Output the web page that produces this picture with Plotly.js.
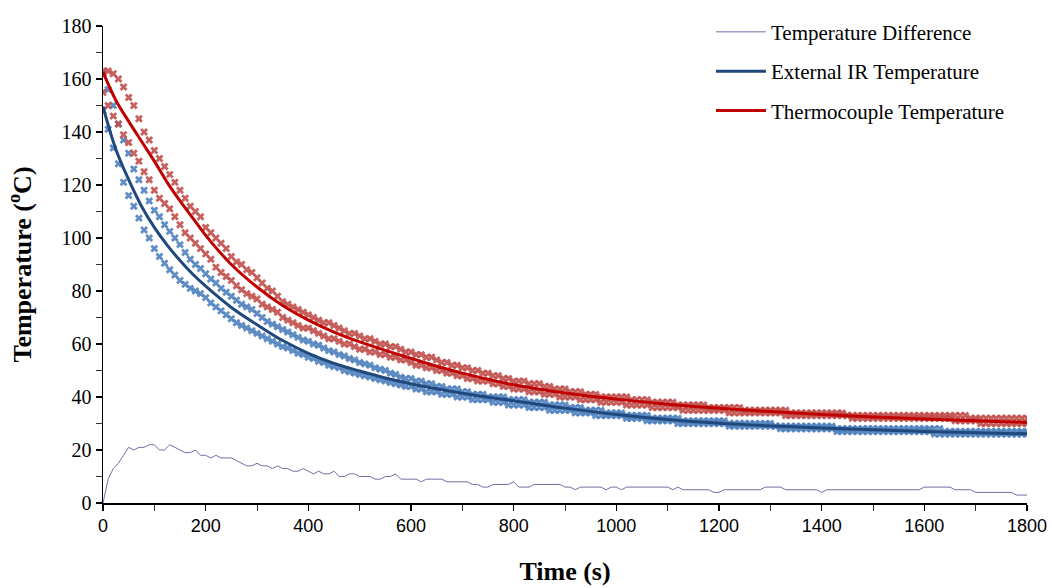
<!DOCTYPE html>
<html>
<head>
<meta charset="utf-8">
<script src="https://cdn.plot.ly/plotly-3.0.1.min.js"></script>
<style>html,body{margin:0;padding:0;background:#fff;}#chart{width:1052px;height:588px;}</style>
</head>
<body>
<div id="chart"></div>
<script>
// sampling step of the logged measurements (s)
const sampleStep = 10;
const sampleCount = 181;

// Thermocouple readings, upper run (°C)
const tcUpper = [163,163,162,160,157,153,150,145,140,137,
 133,130,127,124,121,118,115,112,110,108,
 104,102,100,98,96,93,91,90,88,87,
 85,83,81,80,78,76,75,74,73,72,
 71,70,69,68,68,67,66,65,64,64,
 63,62,62,61,60,60,59,59,58,57,
 57,56,56,55,55,54,53,53,52,52,
 51,51,50,50,49,49,48,48,47,47,
 46,46,46,45,45,45,44,44,43,43,
 43,42,42,42,41,41,41,40,40,40,
 40,40,40,39,39,39,39,38,38,38,
 38,38,37,37,37,37,37,37,36,36,
 36,36,36,36,36,35,35,35,35,35,
 35,35,35,35,34,34,34,34,34,34,
 34,34,34,34,34,33,33,33,33,33,
 33,33,33,33,33,33,33,33,33,33,
 33,33,33,33,33,33,33,33,33,32,
 32,32,32,32,32,32,32,32,32,32,
 32];
// Thermocouple readings, lower run (°C)
const tcLower = [155,150,146,143,139,136,132,129,125,122,
 118,115,113,111,108,105,102,100,98,96,
 94,92,89,87,85.5,84,82,80.5,79,78,
 77,75,74,73,72,70,69,68,67,66,
 66,65,64,63,62,62,61,60,60,59,
 58,58,57,57,56,56,55,55,54,54,
 53,52,52,51,51,50,50,49,49,48,
 48,47,47,46,46,46,45,45,44,44,
 43,43,43,42,42,42,41,41,41,40,
 40,40,40,39,39,39,39,38,38,38,
 38,38,37,37,37,37,37,36,36,36,
 36,36,36,35,35,35,35,35,35,35,
 35,35,34,34,34,34,34,34,34,34,
 34,34,34,33,33,33,33,33,33,33,
 33,33,33,33,33,33,32,32,32,32,
 32,32,32,32,32,32,32,32,32,32,
 32,32,32,32,32,32,31,31,31,31,
 31,30,30,30,30,30,30,30,30,30,
 30];
// External IR readings, upper run (°C)
const irUpper = [162,156,150,143,137,132,126,122,118,114,
 110.5,108,105,102.5,100,97.5,94.5,92,90,88.5,
 86.5,84.5,83,81,79.5,78,76.5,75,74,73,
 71.5,70,68.5,67.5,66.5,65.5,64.5,63.5,62.5,61.5,
 61,60,59.5,58.5,57.5,57,56,55.5,54.5,54,
 53,52.5,52,51,50.5,50,49,48.5,47.5,47,
 47,46,46,45,45,44,44,43,43,43,
 42,42,41,41,41,40,40,40,40,39,
 39,39,39,38,38,38,38,37,37,37,
 37,36,36,36,35,35,35,35,34,34,
 34,34,33,33,33,33,33,32,32,32,
 32,32,32,31,31,31,31,31,31,31,
 31,31,30,30,30,30,30,30,30,30,
 30,29,29,29,29,29,29,29,29,29,
 29,29,29,28,28,28,28,28,28,28,
 28,28,28,28,28,28,28,28,28,28,
 28,28,28,28,27,27,27,27,27,27,
 27,27,27,27,27,27,27,27,27,27,
 27];
// External IR readings, lower run (°C)
const irLower = [148,141,134,128,121,116,112,107.5,103,100,
 96,93,90.5,88,86,84,82.5,81,80,79,
 77.5,75.5,74,72.5,71,69.5,68,67,66,65,
 64,63,62,61,60,59,58.5,57.5,56.5,56,
 55,54.5,53.5,53,52,51.5,51,50,49.5,49,
 48.5,48,47.5,47,46.5,46,45.5,45,44.5,44,
 44,43,43,42,42,42,41,41,41,40,
 40,40,39,39,39,39,38,38,38,37,
 37,37,37,36,36,36,36,35,35,35,
 35,35,34,34,34,34,33,33,33,33,
 33,33,32,32,32,32,31,31,31,31,
 31,31,30,30,30,30,30,30,30,30,
 30,30,29,29,29,29,29,29,29,29,
 29,29,28,28,28,28,28,28,28,28,
 28,28,28,27,27,27,27,27,27,27,
 27,27,27,27,27,27,27,27,27,27,
 27,27,26,26,26,26,26,26,26,26,
 26,26,26,26,26,26,26,26,26,26,
 26];
// Temperature difference (°C)
const tempDiff = [0,9,13,15,18,21,20,21,21,22,
 22,20,20,22,21,20,19,19,20,18,
 18,17,18,17,17,17,16,15,14,14,
 15,14,14,13,14,13,13,12,12,13,
 12,11,12,11,11,12,10,10,11,11,
 10,10,10,9,9,10,10,11,9,9,
 9,9,8,9,9,9,9,8,8,8,
 8,8,7,7,6,6,7,7,7,7,
 8,6,6,6,7,7,7,7,7,7,
 6,6,5,6,6,6,6,6,5,6,
 6,5,6,6,6,6,6,6,6,6,
 6,5,6,5,5,5,5,5,5,4,
 4,5,5,5,5,5,5,5,5,6,
 6,6,6,5,5,5,5,5,5,5,
 4,5,5,5,5,5,5,5,5,5,
 5,5,5,5,5,5,5,5,5,5,
 6,6,6,6,6,6,5,5,5,5,
 4,4,4,4,4,4,4,4,3,3,
 3];

// Fitted curves
const fitTime = [0,25,50,75,100,125,150,175,200,250,300,350,400,450,500,550,600,650,700,750,800,900,1000,1100,1200,1300,1400,1500,1600,1700,1800];
const fitTc = [162.6,152,144,136.5,129,121,114,107.5,101,90,81.5,74.5,69,64.5,60.8,57.6,54.6,51.6,49,46.7,44.6,41.5,39.2,37.3,35.8,34.5,33.4,32.5,31.7,31.0,30.4];
const fitIr = [149.6,133.5,122,112,104,97.3,91.5,86.3,81.8,73.8,67.3,61.3,56.5,52.7,49.8,47.2,45,43.1,41.4,39.9,38.6,35.8,33.4,31.5,30.1,29.1,28.3,27.6,27.0,26.5,26.1];

const timeS = Array.from({length: sampleCount}, (_, i) => i * sampleStep);

const redMk = '#c0504d', blueMk = '#4f81bd';
const mk = (c) => ({symbol: 'x', size: 7, color: c, opacity: 0.9, line: {width: 0}});

const traces = [
  {x: timeS, y: irUpper, mode: 'markers', marker: mk(blueMk), showlegend: false, hoverinfo: 'skip'},
  {x: timeS, y: irLower, mode: 'markers', marker: mk(blueMk), showlegend: false, hoverinfo: 'skip'},
  {x: timeS, y: tcUpper, mode: 'markers', marker: mk(redMk), showlegend: false, hoverinfo: 'skip'},
  {x: timeS, y: tcLower, mode: 'markers', marker: mk(redMk), showlegend: false, hoverinfo: 'skip'},
  {x: timeS, y: tempDiff, mode: 'lines', name: 'Temperature Difference', legendgroup: 'a',
   line: {color: '#7d68a6', width: 1}},
  {x: fitTime, y: fitIr, mode: 'lines', name: 'External IR Temperature', legendgroup: 'b',
   line: {color: '#1f497d', width: 3, shape: 'spline'}},
  {x: fitTime, y: fitTc, mode: 'lines', name: 'Thermocouple Temperature', legendgroup: 'c',
   line: {color: '#c00000', width: 3, shape: 'spline'}}
];

const layout = {
  width: 1052, height: 588,
  margin: {l: 103, r: 25, t: 18, b: 85},
  paper_bgcolor: '#fff', plot_bgcolor: '#fff',
  showlegend: true,
  legend: {x: 0.658, y: 1.03, xanchor: 'left', yanchor: 'top', traceorder: 'grouped',
    tracegroupgap: 9, itemwidth: 50, bgcolor: 'rgba(0,0,0,0)',
    font: {family: 'Liberation Serif, Times New Roman, serif', size: 21, color: '#000'}},
  xaxis: {
    range: [0, 1800], dtick: 200, tick0: 0,
    showline: true, linecolor: '#000', linewidth: 1.5,
    ticks: 'outside', ticklen: 6, tickwidth: 1.5, tickcolor: '#000',
    minor: {dtick: 100, ticks: 'outside', ticklen: 6, tickwidth: 1, tickcolor: '#333'},
    showgrid: false, zeroline: false,
    tickfont: {family: 'Liberation Sans, Arial, sans-serif', size: 18, color: '#000'},
    title: {text: '<b>Time (s)</b>', standoff: 26,
      font: {family: 'Liberation Serif, Times New Roman, serif', size: 26, color: '#000'}}
  },
  yaxis: {
    range: [0, 180], dtick: 20, tick0: 0,
    showline: true, linecolor: '#000', linewidth: 1.5,
    ticks: 'outside', ticklen: 6, tickwidth: 1.5, tickcolor: '#000',
    minor: {dtick: 10, ticks: 'outside', ticklen: 6, tickwidth: 1, tickcolor: '#333'},
    showgrid: false, zeroline: false,
    tickfont: {family: 'Liberation Serif, Times New Roman, serif', size: 20, color: '#000'},
    title: {text: '<b>Temperature (<sup>o</sup>C)</b>', standoff: 22,
      font: {family: 'Liberation Serif, Times New Roman, serif', size: 26, color: '#000'}}
  }
};

Plotly.newPlot('chart', traces, layout, {displayModeBar: false, staticPlot: true});
</script>
</body>
</html>
